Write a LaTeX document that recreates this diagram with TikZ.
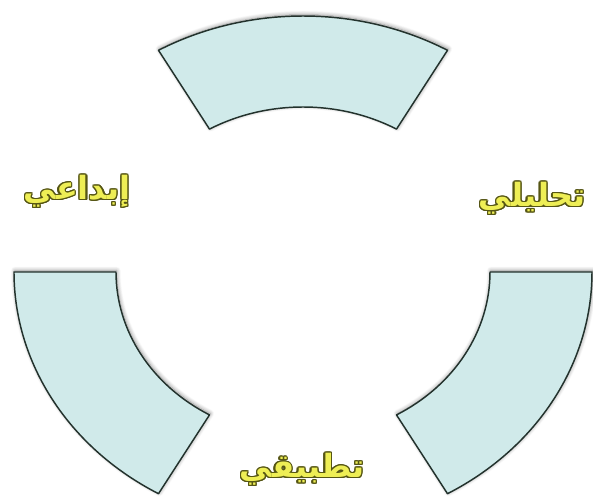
\documentclass[tikz,border=0pt]{standalone}
\usepackage{fontspec}
\usepackage[copies]{contour}
\usetikzlibrary{shadows.blur}
\newfontfamily\arabicfont[Script=Arabic]{DejaVu Sans}
\TeXXeTstate=1
\definecolor{sectorfill}{RGB}{208,234,234}
\definecolor{sectoredge}{RGB}{35,50,45}
\definecolor{labelyellow}{RGB}{238,238,85}
\definecolor{labeledge}{RGB}{85,85,20}
\contourlength{1pt}
\newcommand{\arlabel}[1]{\color{labelyellow}\contour{labeledge}{\beginR #1\endR}}

\begin{document}
\begin{tikzpicture}[x=0.75pt,y=0.75pt,
  sector/.style={fill=sectorfill, draw=sectoredge, line width=1.1pt, line join=round,
    blur shadow={shadow xshift=0.6pt, shadow yshift=1pt, shadow blur radius=3pt, shadow blur steps=8, shadow opacity=45}},
  lbl/.style={font=\arabicfont\bfseries\fontsize{24}{28}\selectfont, inner sep=0pt}]
\useasboundingbox (-303,-229) rectangle (290,272);
\draw[sector] (60:289 and 256) arc[start angle=60,end angle=120,x radius=289,y radius=256] -- (120:187 and 165) arc[start angle=120,end angle=60,x radius=187,y radius=165] -- cycle;
\draw[sector] (180:289 and 256) arc[start angle=180,end angle=240,x radius=289,y radius=256] -- (240:187 and 165) arc[start angle=240,end angle=180,x radius=187,y radius=165] -- cycle;
\draw[sector] (300:289 and 256) arc[start angle=300,end angle=360,x radius=289,y radius=256] -- (0:187 and 165) arc[start angle=360,end angle=300,x radius=187,y radius=165] -- cycle;
\node[lbl] (ibdai) at (-226,80) {\arlabel{إبداعي}};
\node[lbl] (tahlili) at (229,73) {\arlabel{تحليلي}};
\node[lbl] (tatbiqi) at (-1,-198) {\arlabel{تطبيقي}};
\end{tikzpicture}
\end{document}
